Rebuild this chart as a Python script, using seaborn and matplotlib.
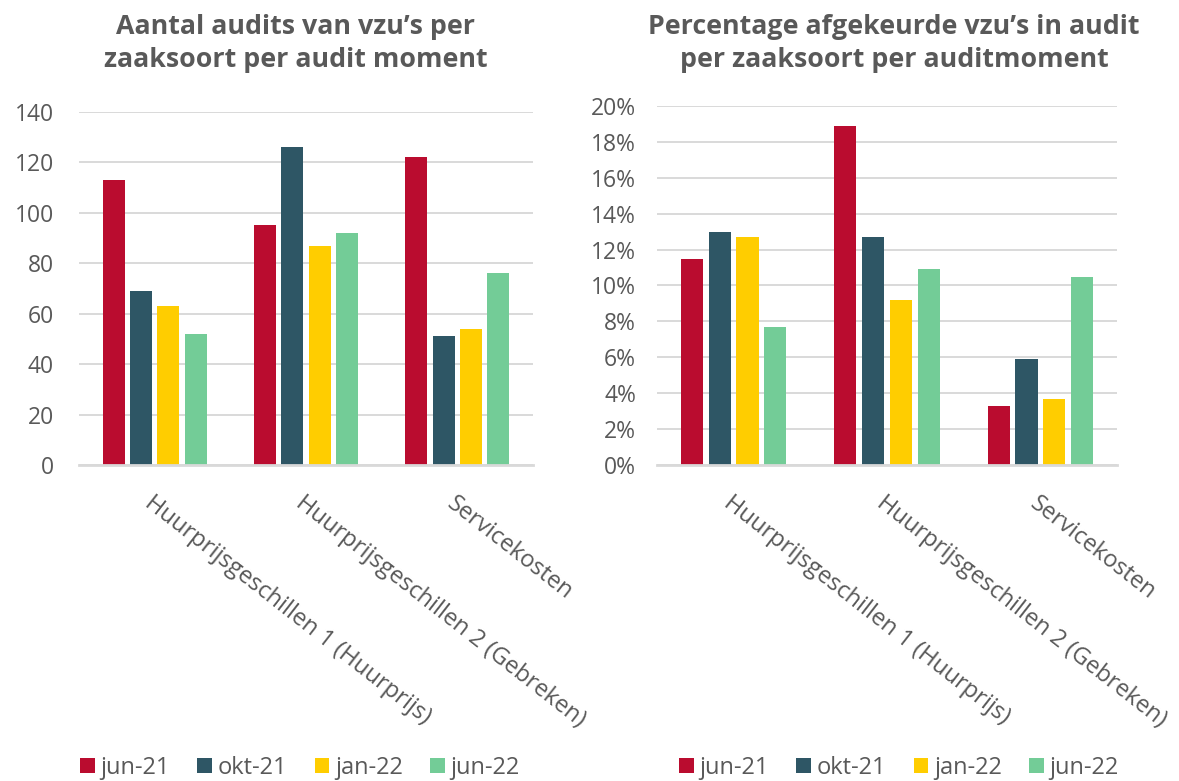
import matplotlib
matplotlib.use("Agg")

import pandas as pd
import seaborn as sns
from matplotlib import pyplot as plt
from matplotlib.ticker import PercentFormatter

# data
zaaksoorten = [
    "Huurprijsgeschillen 1 (Huurprijs)",
    "Huurprijsgeschillen 2 (Gebreken)",
    "Servicekosten",
]
momenten = ["jun-21", "okt-21", "jan-22", "jun-22"]

aantal_jun21 = [113, 95, 122]
aantal_okt21 = [69, 126, 51]
aantal_jan22 = [63, 87, 54]
aantal_jun22 = [52, 92, 76]

pct_jun21 = [11.5, 18.9, 3.3]
pct_okt21 = [13.0, 12.7, 5.9]
pct_jan22 = [12.7, 9.2, 3.7]
pct_jun22 = [7.7, 10.9, 10.5]

kleuren = ["#BA0C2F", "#2E5665", "#FFCD00", "#73CC97"]

TEXT = "#595959"
GRID = "#D9D9D9"
W, H = 1179, 781


def long_frame(series):
    rows = []
    for moment, values in zip(momenten, series):
        for zaak, v in zip(zaaksoorten, values):
            rows.append({"zaaksoort": zaak, "moment": moment, "waarde": v})
    return pd.DataFrame(rows)


df_aantal = long_frame([aantal_jun21, aantal_okt21, aantal_jan22, aantal_jun22])
df_pct = long_frame([pct_jun21, pct_okt21, pct_jan22, pct_jun22])

sns.set_style("white")
plt.rcParams["font.family"] = ["Open Sans", "DejaVu Sans"]
plt.rcParams["text.color"] = TEXT
plt.rcParams["xtick.color"] = TEXT
plt.rcParams["ytick.color"] = TEXT

fig = plt.figure(figsize=(W / 100, H / 100), dpi=100)
ax1 = fig.add_axes([79 / W, 1 - 465 / H, 454 / W, 353 / H])
ax2 = fig.add_axes([657 / W, 1 - 465 / H, 460 / W, 359 / H])


def draw(ax, df, ymax, step, legend_x, ypad):
    sns.barplot(
        data=df, x="zaaksoort", y="waarde", hue="moment",
        hue_order=momenten, palette=kleuren, saturation=1,
        width=0.724, gap=0.2, linewidth=0, ax=ax,
    )
    ax.set_ylim(0, ymax)
    ax.set_yticks(range(0, ymax + 1, step))
    ax.yaxis.grid(True, color=GRID, linewidth=1.4)
    ax.set_axisbelow(True)
    for s in ["left", "right", "top"]:
        ax.spines[s].set_visible(False)
    ax.spines["bottom"].set_color(GRID)
    ax.spines["bottom"].set_linewidth(2)
    ax.tick_params(axis="y", length=0, labelsize=16.5, pad=ypad)
    ax.tick_params(axis="x", length=0, labelsize=17, pad=19)
    ax.set_xlabel("")
    ax.set_ylabel("")
    ax.set_xticks(range(len(zaaksoorten)))
    ax.set_xticklabels(zaaksoorten, rotation=-38, ha="left", va="top",
                       rotation_mode="anchor")
    sns.move_legend(
        ax, "center", bbox_to_anchor=(legend_x / W, 1 - 768 / H),
        bbox_transform=fig.transFigure, ncol=4,
        frameon=False, title=None, fontsize=17,
        handlelength=0.62, handleheight=0.62, handletextpad=0.25,
        columnspacing=1.15,
    )


draw(ax1, df_aantal, 140, 20, 300, 18)
draw(ax2, df_pct, 20, 2, 899, 15)
ax2.yaxis.set_major_formatter(PercentFormatter(decimals=0))

fig.text(296 / W, 1 - 14 / H,
         "Aantal audits van vzu’s per\nzaaksoort per audit moment",
         ha="center", va="top", fontsize=19.3, fontweight="bold",
         linespacing=1.36)
fig.text(894 / W, 1 - 14 / H,
         "Percentage afgekeurde vzu’s in audit\nper zaaksoort per auditmoment",
         ha="center", va="top", fontsize=19.3, fontweight="bold",
         linespacing=1.36)

fig.savefig("out.png", dpi=100)
